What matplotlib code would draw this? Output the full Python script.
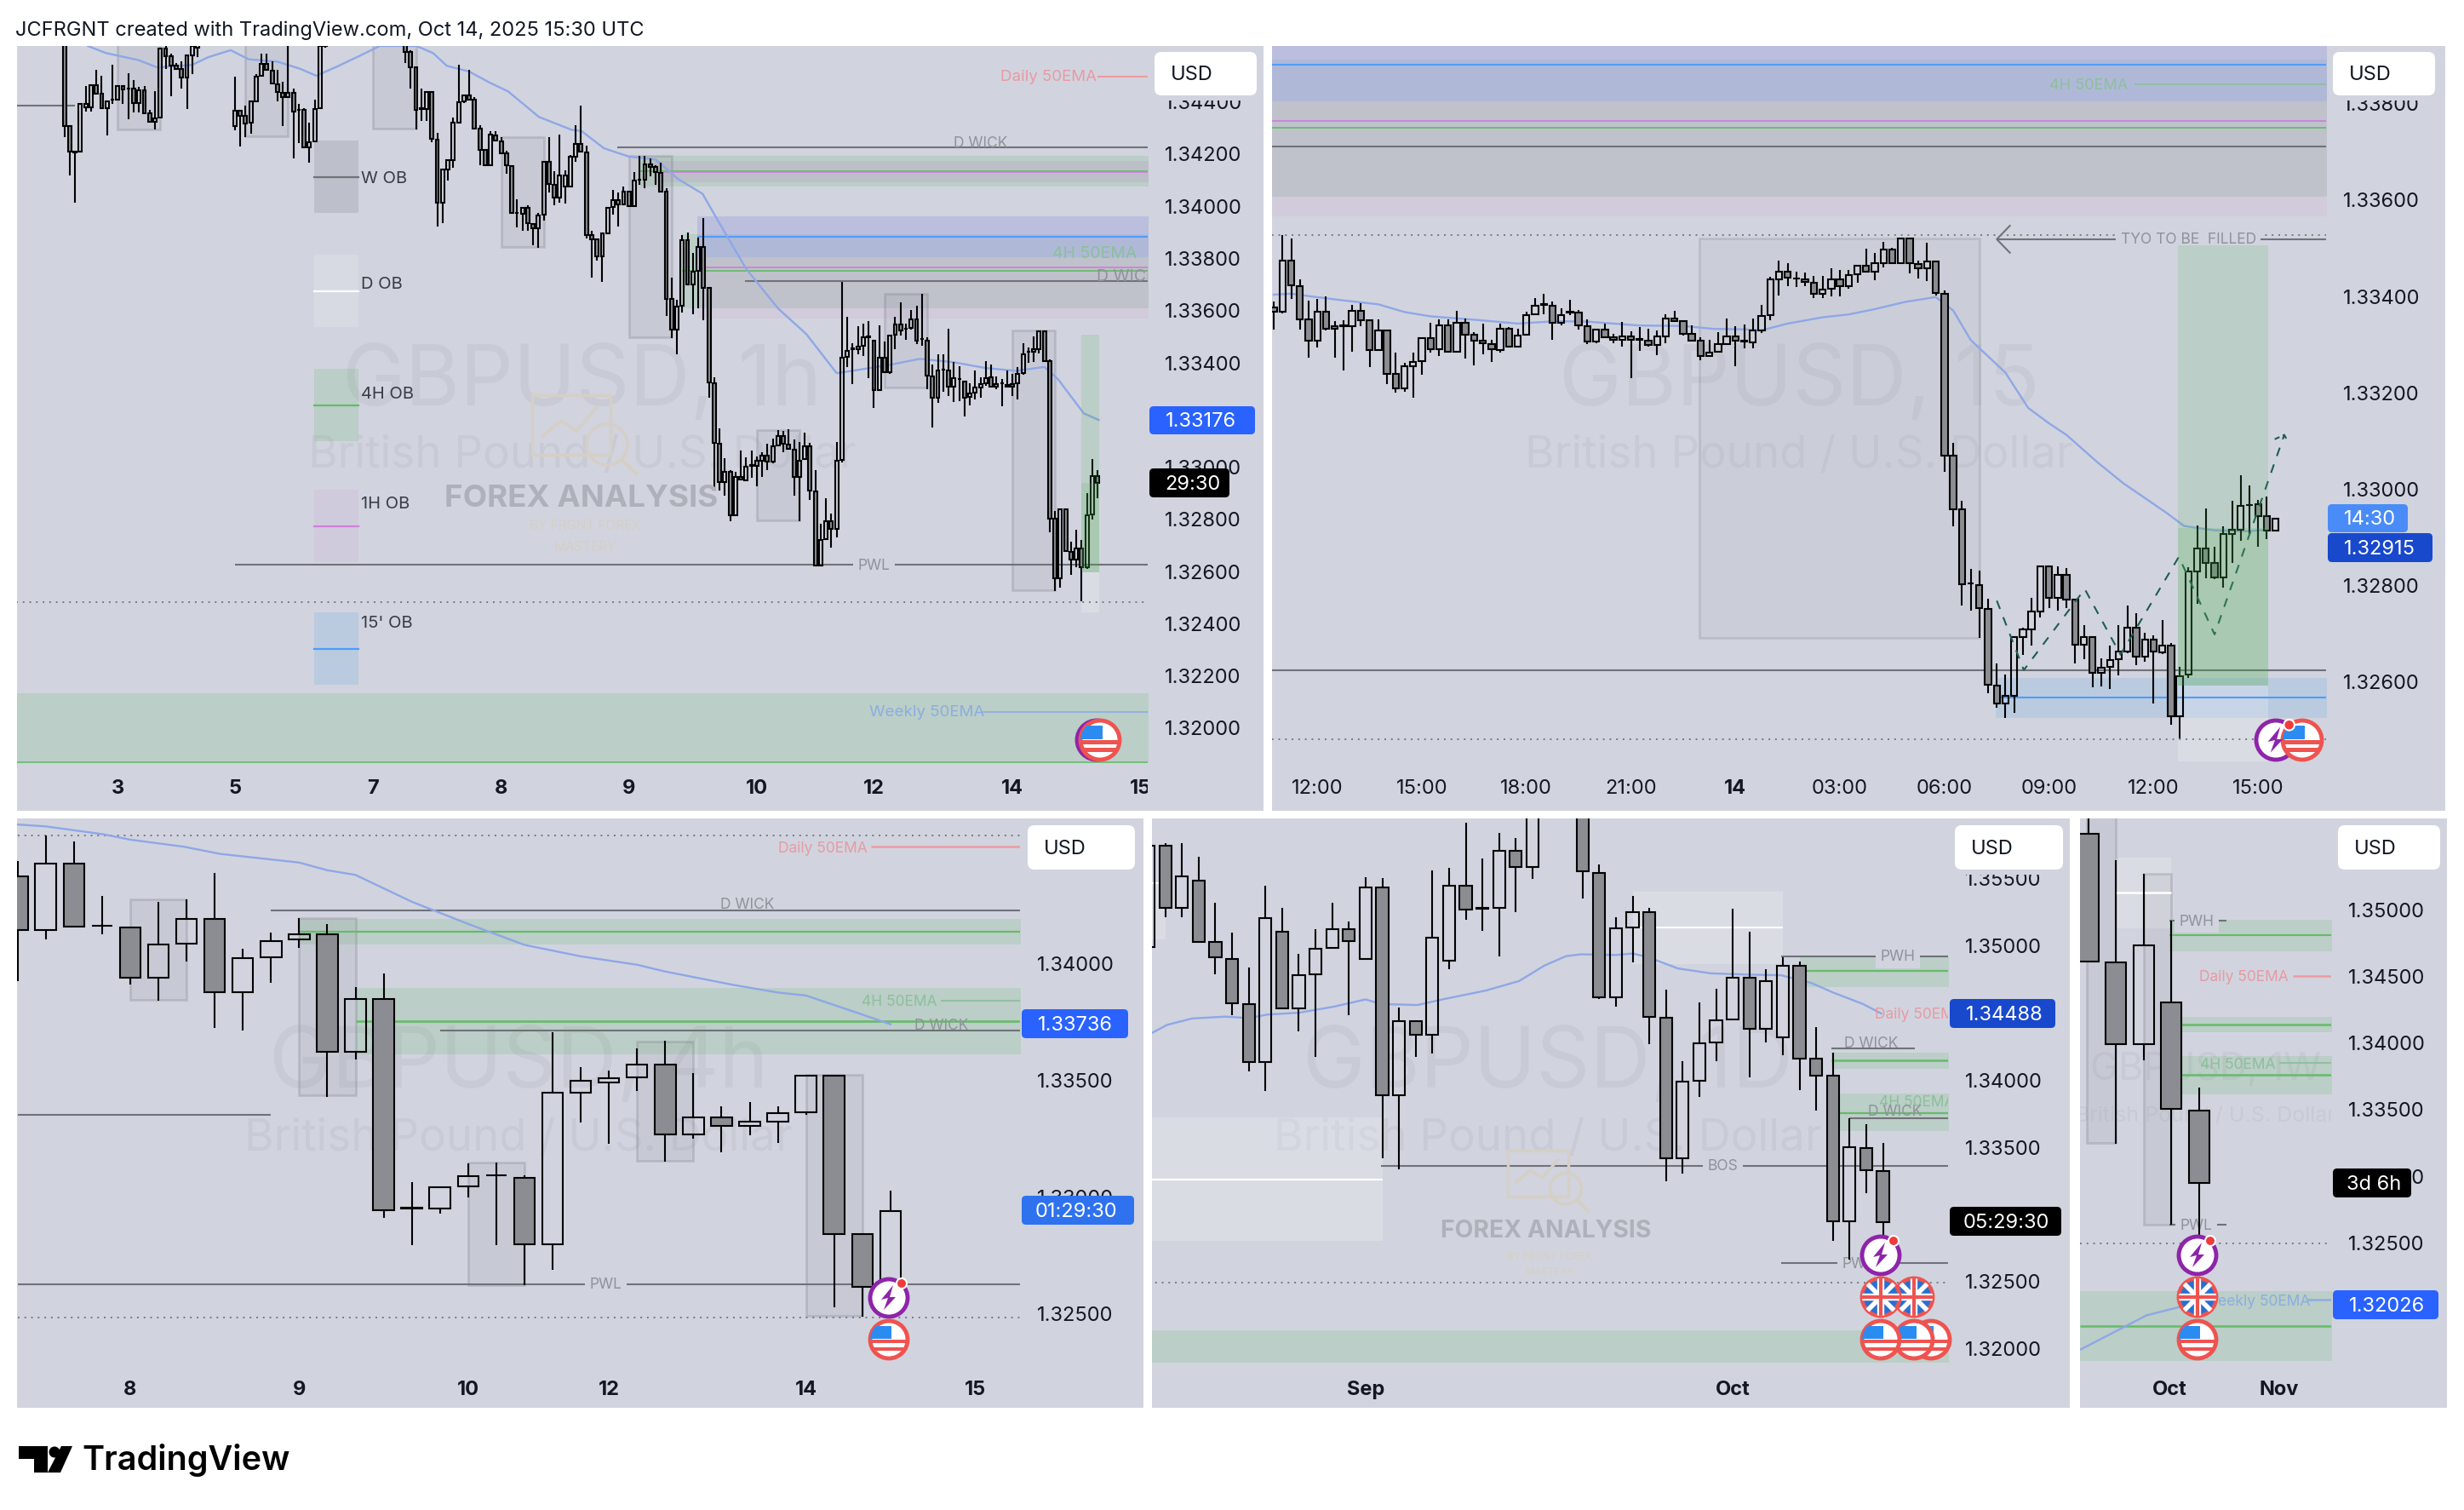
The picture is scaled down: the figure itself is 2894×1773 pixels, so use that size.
import numpy as np
import matplotlib
matplotlib.use('Agg')
import matplotlib.pyplot as plt
from matplotlib.patches import Rectangle, FancyBboxPatch, Circle, Polygon
from matplotlib.transforms import IdentityTransform

plt.rcParams['font.family'] = ['Inter', 'Liberation Sans', 'DejaVu Sans']

# 1h candles, in 1e-5 price units
h1_open = [134900,134303,134206,134205,134375,134375,134461,134429,134372,134404,
 134405,134459,134447,134447,134391,134442,134352,134319,134336,134600,
 134573,134535,134524,134489,134576,134606,134720,134770,134740,134760,
 134700,134660,134303,134364,134342,134316,134399,134496,134542,134517,
 134465,134433,134414,134433,134366,134366,134223,134245,134372,134611,
 134660,134700,134750,134800,134780,134820,134850,134810,134790,134830,
 134800,134760,134780,134730,134700,134589,134529,134371,134369,134435,
 134252,134010,134139,134175,134317,134399,134423,134404,134296,134212,
 134154,134268,134247,134201,134152,133971,133967,133991,133929,133911,
 133964,134168,134080,134029,134072,134072,134188,134236,134203,133885,
 133871,133804,133892,133993,134020,134005,134054,133999,134099,134098,
 134156,134149,134124,134052,133641,133523,133616,133868,133697,133748,
 133841,133683,133320,133088,132941,132979,132814,132960,132946,133003,
 133001,133023,133041,133017,133080,133115,133085,133064,132960,133028,
 133077,132905,132620,132720,132789,132760,133026,133420,133450,133449,
 133461,133496,133483,133292,133418,133360,133504,133545,133526,133531,
 133562,133487,133483,133346,133263,133371,133366,133306,133334,133326,
 133265,133282,133301,133319,133340,133305,133319,133313,133314,133317,
 133357,133438,133438,133450,133518,133402,132798,132572,132836,132673,
 132642,132684,132612,132816,132963]
h1_high = [134950,134303,134206,134390,134457,134464,134519,134497,134399,134538,
 134459,134459,134506,134480,134453,134457,134366,134437,134600,134611,
 134582,134546,134551,134578,134620,134740,134790,134820,134800,134810,
 134760,134700,134494,134364,134383,134399,134502,134582,134582,134551,
 134519,134475,134611,134448,134390,134372,134316,134404,134625,134680,
 134720,134780,134830,134860,134840,134880,134900,134870,134850,134880,
 134840,134810,134820,134770,134740,134595,134529,134448,134435,134435,
 134279,134138,134174,134336,134540,134423,134519,134415,134306,134212,
 134285,134285,134262,134208,134154,134024,133994,134002,133933,133972,
 134168,134262,134132,134270,134133,134192,134306,134383,134230,133904,
 133871,133892,133992,134059,134051,134073,134054,134127,134189,134189,
 134181,134154,134165,134067,133722,133637,133888,133896,133817,133877,
 133951,133686,133340,133144,133030,132985,132979,133061,133033,133061,
 133039,133055,133088,133106,133139,133135,133142,133104,133093,133128,
 133090,132985,132781,132878,132819,133093,133708,133572,133472,133537,
 133548,133556,133483,133540,133477,133502,133573,133629,133548,133600,
 133616,133662,133496,133390,133431,133431,133527,133401,133384,133326,
 133317,133368,133342,133403,133390,133344,133335,133368,133355,133380,
 133473,133455,133499,133521,133520,133409,132830,132836,132838,132713,
 132757,132719,132898,133029,132985]
h1_low = [134263,134116,134009,134203,134361,134361,134426,134372,134268,134388,
 134404,134388,134331,134355,134355,134352,134317,134290,134334,134524,
 134418,134524,134448,134369,134504,134568,134660,134700,134690,134680,
 134650,134630,134288,134225,134263,134276,134399,134495,134519,134464,
 134399,134305,134414,134181,134238,134223,134165,134242,134372,134606,
 134640,134670,134720,134760,134740,134790,134800,134770,134750,134780,
 134740,134720,134710,134680,134546,134448,134292,134325,134325,134241,
 133920,133933,134096,134143,134315,134391,134401,134290,134154,134154,
 134154,134249,134201,134121,133971,133917,133904,133904,133846,133839,
 133942,134049,134002,134009,134007,134072,134167,134203,133872,133722,
 133790,133708,133892,133964,133918,134005,133994,133994,134078,134067,
 134111,134078,134051,133577,133493,133428,133588,133697,133583,133605,
 133561,133262,132908,132908,132887,132791,132814,132947,132946,132957,
 132925,132961,132985,133012,133080,133055,133066,132887,132791,133028,
 132870,132620,132620,132720,132687,132727,133014,133382,133316,133431,
 133422,133338,133224,133292,133357,133353,133448,133502,133486,133524,
 133469,133461,133297,133150,133244,133287,133270,133246,133251,133190,
 133235,133257,133263,133308,133303,133297,133229,133306,133268,133255,
 133350,133396,133399,133434,133401,132746,132523,132534,132675,132583,
 132612,132482,132606,132795,132878]
h1_close = [134303,134206,134204,134390,134390,134461,134429,134372,134399,134405,
 134459,134446,134448,134391,134442,134352,134319,134334,134600,134573,
 134535,134524,134489,134576,134611,134720,134770,134740,134760,134700,
 134660,134640,134364,134344,134315,134399,134495,134542,134519,134467,
 134435,134414,134433,134361,134367,134223,134243,134371,134611,134660,
 134700,134750,134800,134780,134820,134850,134810,134790,134830,134800,
 134760,134780,134730,134700,134589,134529,134366,134372,134435,134254,
 134010,134138,134174,134317,134397,134423,134404,134296,134212,134154,
 134270,134249,134201,134154,133971,133972,133991,133933,133911,133962,
 134168,134081,134029,134116,134116,134187,134236,134206,133888,133871,
 133804,133892,133992,134020,134005,134054,133996,134096,134100,134158,
 134149,134127,134053,133643,133523,133613,133868,133697,133746,133841,
 133683,133322,133090,132941,132979,132814,132960,132949,132999,133004,
 133020,133041,133019,133077,133115,133086,133066,132960,133023,133077,
 132908,132620,132718,132789,132759,133023,133418,133444,133451,133458,
 133494,133497,133292,133418,133360,133502,133545,133520,133527,133562,
 133482,133488,133347,133263,133369,133372,133306,133337,133335,133263,
 133279,133301,133316,133339,133305,133314,133320,133306,133307,133355,
 133431,133439,133448,133518,133404,132800,132572,132836,132675,132642,
 132684,132615,132814,132963,132936]
h1_ema_x = [4.4,7.8,13.9,17.4,23.9,27,31.2,34.6,40,44.2,47.3,51.5,55.4,59.2,66.1,69.2,71.8,76,79.9,83.3,
 89.1,95.2,97.1,101.3,106,111,115.3,119.8,122.7,128,134,139.3,145,149.4,154.7,160.6,167,172.9,178.7,184,186.6,191.4,194.2]
h1_ema_y = [134611,134584,134557,134529,134538,134568,134595,134560,134551,134524,134497,134535,134573,134611,134611,134584,134535,134513,134470,134437,
 134339,134290,134285,134219,134187,134176,134100,134045,133942,133757,133605,133507,133357,133371,133388,133412,133399,133377,133366,133381,133333,133203,133178]
h1_ticks = [10,32,58,82,106,130,152,178,202]
h1_tick_labels = ['3','5','7','8','9','10','12','14','15']

# 15m candles
m15_open = [133375,133366,133472,133420,133350,133307,133366,133336,133337,133337,
 133369,133349,133287,133328,133237,133208,133254,133264,133312,133288,
 133338,133284,133343,133319,133306,133300,133287,133331,133294,133319,
 133362,133381,133379,133344,133365,133364,133337,133304,133329,133313,
 133309,133316,133309,133306,133298,133316,133352,133348,133320,133306,
 133275,133283,133300,133316,133305,133303,133328,133359,133433,133450,
 133435,133433,133427,133403,133414,133434,133419,133444,133462,133449,
 133468,133496,133468,133518,133466,133456,133470,133404,133068,132956,
 132802,132799,132750,132591,132553,132570,132692,132708,132745,132838,
 132772,132820,132769,132675,132691,132618,132629,132645,132661,132711,
 132651,132686,132660,132673,132528,132613,132828,132875,132845,132815,
 132906,132914,132965,132967,132942,132913]
m15_high = [133388,133526,133519,133433,133389,133393,133398,133347,133349,133381,
 133384,133350,133350,133329,133282,133260,133282,133312,133344,133351,
 133351,133369,133352,133324,133342,133308,133342,133335,133332,133367,
 133395,133404,133387,133373,133391,133370,133350,133332,133342,133320,
 133346,133326,133335,133332,133328,133362,133369,133348,133338,133313,
 133308,133325,133352,133337,133340,133352,133380,133439,133472,133467,
 133449,133448,133440,133441,133457,133453,133453,133462,133497,133489,
 133511,133499,133519,133519,133472,133510,133470,133411,133095,132974,
 132833,132829,132771,132636,132613,132693,132711,132773,132838,132838,
 132839,132834,132769,132717,132692,132647,132674,132717,132757,132741,
 132701,132695,132726,132679,132629,132837,132923,132959,132878,132921,
 132975,133028,133006,132976,132983,132939]
m15_low = [133329,133363,133394,133330,133272,133293,133328,133272,133244,133283,
 133337,133252,133285,133217,133198,133200,133189,133235,133281,133274,
 133284,133284,133270,133256,133278,133262,133281,133292,133294,133319,
 133362,133362,133309,133339,133360,133329,133300,133301,133311,133301,
 133295,133228,133286,133295,133276,133302,133345,133317,133304,133266,
 133275,133283,133299,133254,133291,133291,133322,133349,133400,133420,
 133418,133420,133395,133395,133399,133399,133415,133426,133449,133432,
 133458,133466,133466,133446,133435,133431,133400,133034,132921,132757,
 132746,132690,132574,132544,132524,132534,132655,132673,132732,132752,
 132746,132752,132637,132645,132587,132589,132584,132612,132658,132633,
 132640,132554,132657,132510,132482,132607,132761,132814,132811,132794,
 132845,132891,132905,132879,132894,132913]
m15_close = [133366,133472,133422,133351,133307,133366,133331,133331,133338,133369,
 133349,133287,133328,133238,133208,133253,133263,133312,133288,133338,
 133284,133343,133319,133307,133301,133288,133331,133294,133318,133360,
 133379,133382,133344,133360,133366,133338,133304,133329,133313,133309,
 133316,133309,133310,133298,133315,133352,133348,133320,133307,133275,
 133282,133300,133316,133306,133306,133328,133358,133433,133450,133437,
 133436,133428,133403,133413,133434,133419,133443,133462,133449,133468,
 133496,133468,133518,133467,133456,133470,133405,133068,132957,132801,
 132803,132751,132592,132553,132569,132692,132707,132744,132838,132772,
 132820,132770,132675,132691,132618,132628,132644,132661,132711,132651,
 132686,132661,132673,132528,132611,132828,132875,132846,132815,132905,
 132914,132963,132966,132943,132913,132937]
m15_ema_x = [0,2,4,8,12,15,18,23,28,32.5,36,42,47,50.5,54,56,59,63,66,69,72.5,76,78,80,84,86.6,89,91,94.5,97.5,102.5,104.5,108,111.5,114]
m15_ema_y = [133402,133404,133399,133390,133382,133366,133357,133350,133342,133347,133346,133338,133337,133331,133330,133328,133342,133355,133361,133372,133387,133397,133369,133308,133240,133167,133135,133111,133055,133011,132949,132922,132913,132911,132914]
m15_path_x = [83,86.1,93.1,97.2,103.9,108,116,116.6]
m15_path_y = [132767,132623,132791,132655,132858,132697,133111,133091]
m15_ticks = [5,17,29,41,53,65,77,89,101,113]
m15_tick_labels = ['12:00','15:00','18:00','21:00','14','03:00','06:00','09:00','12:00','15:00']

# 4h candles
h4_open = [134368,134140,134424,134157,134152,133937,134083,134186,133873,134022,134098,134121,133618,133844,132947,132945,
 133040,133089,133078,132794,133443,133485,133507,133562,133264,133335,133302,133318,133358,133515,132835,132611]
h4_high = [134437,134546,134519,134286,134152,134261,134273,134383,134060,134130,134191,134166,133896,133954,133058,133037,
 133138,133143,133089,133703,133552,133539,133631,133664,133525,133385,133403,133384,133520,133520,132835,133024]
h4_low = [133921,134098,134153,134121,133905,133836,134003,133721,133708,133913,134063,133426,133585,132906,132791,132925,
 132992,132791,132616,132685,133315,133225,133449,133146,133245,133187,133261,133228,133348,132524,132483,132611]
h4_close = [134140,134424,134153,134158,133937,134078,134186,133873,134021,134093,134121,133618,133844,132938,132948,133037,
 133084,133090,132794,133441,133492,133503,133562,133264,133335,133302,133317,133356,133515,132838,132611,132935]
h4_ema_x = [0,1,3,4,5.9,7.2,10,11,12,14,16,18,20,22,23,25.4,27,28,29.5,31]
h4_ema_y = [134592,134584,134551,134527,134497,134466,134429,134396,134376,134261,134166,134076,134027,133991,133962,133905,133872,133859,133798,133736]
h4_ticks = [4,10,16,21,28,34]
h4_tick_labels = ['8','9','10','12','14','15']

# daily candles
d1_open = [134988,135743,135279,135478,135020,134897,134561,134129,135102,134527,134783,134980,135116,134897,135427,133884,134433,134331,134883,135441,135279,135279,135703,
 135580,136000,136150,136060,135540,134610,135128,135244,134459,133409,133986,134274,134445,134758,134373,134311,134846,134151,134026,132945,133485,133317]
d1_high = [135814,135757,135757,135657,135316,135096,134832,135444,135279,134937,135116,135313,135173,135506,135501,134533,134433,135558,135572,135913,135643,135834,135799,
 136000,136200,136250,136100,135600,135207,135367,135279,134667,134134,134570,134675,135273,135102,134817,134909,134880,134391,134197,133707,133665,133528]
d1_low = [134974,135210,135210,135017,134780,134476,134058,133912,134519,134354,134169,134980,134476,134897,133414,133332,134169,134191,134823,135188,135108,134917,135244,
 135492,135950,136000,135344,134601,134539,134874,134262,133243,133300,133870,134134,134439,134012,134277,134177,133921,133764,132797,132654,133152,132825]
d1_close = [135743,135279,135512,135025,134906,134567,134129,135199,134527,134778,134974,135116,135031,135427,133884,134433,134331,135057,135441,135267,135270,135703,135580,
 135960,136150,136060,135549,134610,135122,135244,134467,133409,133981,134268,134439,134758,134373,134732,134846,134157,134029,132945,133497,133323,132939]
d1_ema_x = [0.15,1.1,2.6,4.6,6,7.1,9,11.1,13,13.9,16.1,17.6,20.2,22.2,23.7,25,25.9,28,29,29.9,31.7,33.7,35.9,37.9,39.7,41,42.8,43.9]
d1_ema_y = [134342,134405,134453,134467,134456,134482,134496,134541,134595,134561,134553,134595,134661,134732,134846,134917,134931,134926,134937,134911,134826,134789,134780,134775,134718,134647,134561,134490]
d1_ticks = [13,35]
d1_tick_labels = ['Sep','Oct']

# weekly candles
w1_open = [135561,134598,133982,134298,133484]
w1_high = [135676,135363,135263,134908,133656]
w1_low = [134596,133240,133865,132630,132538]
w1_close = [134601,133982,134727,133498,132945]
w1_ema_x = [-0.3,0.9,2.1,3.3]
w1_ema_y = [131693,131822,131951,132014]
w1_ticks = [2.94,6.9]
w1_tick_labels = ['Oct','Nov']

# levels shared by the 1h and 15m charts
ZONE_4H = (1.33890, 1.33606)
LINE_15M = 1.33880
LINE_1H = 1.33762
LINE_4H = 1.33748
LINE_WICK = 1.33710
PWL = 1.32623
LOW_DOTS = 1.32480

W, H = 2894, 1774
BG = '#d1d4de'
GREY = '#6f7278'
GREEN = '#66bb6a'
PINK = '#cf7fdc'
BLUE = '#4f9cf9'
EMA = '#8ea7e6'
LBL_GREY = '#8f929b'
LBL_RED = '#e89aa3'
LBL_GREEN = '#8dbf9c'
LBL_BLUE = '#8aaee0'
TXT = '#131722'
IDENT = IdentityTransform()

fig = plt.figure(figsize=(W / 100, H / 100), dpi=100, facecolor='white')


def px_rect(x0, y0, x1, y1, **kw):
    r = Rectangle((x0, H - y1), x1 - x0, y1 - y0, transform=IDENT, **kw)
    fig.add_artist(r)
    return r


def px_line(xs, ys, **kw):
    fig.add_artist(plt.Line2D(xs, [H - y for y in ys], transform=IDENT, **kw))


def px_text(x, y, s, **kw):
    kw.setdefault('va', 'center')
    return fig.text(x, H - y - 3, s, transform=IDENT, **kw)


def panel(left, right, plot_right, top, bottom, xlim, ylim, yticks, ylabels, xticks, xlabels, bold=None, xpad=-27):
    px_rect(left, top, right, bottom, fc=BG, ec='none', zorder=-1)
    ax = fig.add_axes([left / W, 1 - bottom / H, (plot_right - left) / W, (bottom - top) / H])
    ax.patch.set_visible(False)
    for s in ax.spines.values():
        s.set_visible(False)
    ax.set_xlim(*xlim)
    ax.set_ylim(*ylim)
    ax.yaxis.tick_right()
    ax.set_yticks(yticks, ylabels)
    ax.set_xticks(xticks, xlabels)
    ax.tick_params(axis='y', length=0, pad=14.4, labelsize=17, labelcolor=TXT)
    ax.tick_params(axis='x', length=0, pad=xpad, labelsize=17, labelcolor=TXT)
    for t, lab in zip(ax.get_xticklabels(), xlabels):
        t.set_clip_on(True)
        t.set_clip_box(ax.bbox)
        if bold is None or lab in bold:
            t.set_fontweight('bold')
    return ax


def candles(ax, o, h, l, c, width, lw=1.5):
    o, h, l, c = [np.array(v) / 1e5 for v in (o, h, l, c)]
    x = np.arange(len(o))
    top = np.maximum(o, c)
    bot = np.minimum(o, c)
    down = c < o
    ax.vlines(x, top, h, color='black', lw=lw, zorder=3)
    ax.vlines(x, l, bot, color='black', lw=lw, zorder=3)
    ax.bar(x[down], (top - bot)[down], bottom=bot[down], width=width, color='#8b8d93', edgecolor='black', linewidth=lw, zorder=3)
    ax.bar(x[~down], (top - bot)[~down], bottom=bot[~down], width=width, color='none', edgecolor='black', linewidth=lw, zorder=3)


def band(ax, x0, x1, y0, y1, color, alpha, z=1):
    ax.fill_between([x0, x1], y0, y1, color=color, alpha=alpha, lw=0, zorder=z)


def green(ax, x0, x1, y0, y1, z=1):
    band(ax, x0, x1, y0, y1, '#4caf50', 0.16, z)


def zone_stack(ax, x0, x1):
    # the 1H, 4H and 15m zones overlap, each slice has its own mixed colour
    band(ax, x0, x1, 1.33958, 1.33890, '#bcbedd', 1)
    band(ax, x0, x1, 1.33890, 1.33803, '#afb9d7', 1)
    band(ax, x0, x1, 1.33803, 1.33606, '#bfc2cb', 1)
    band(ax, x0, x1, 1.33606, 1.33565, '#d2cbdc', 1)


def box(ax, x0, x1, y0, y1, a=0.10):
    ax.add_patch(Rectangle((x0, y1), x1 - x0, y0 - y1, fc=(0.47, 0.48, 0.53, a), ec=(0.47, 0.48, 0.53, a + 0.17), lw=2, zorder=2))


def light(ax, x0, x1, y0, y1, z=1):
    band(ax, x0, x1, y0, y1, '#ffffff', 0.2, z)


def hline(ax, y, x0, x1, color=GREY, lw=1.5):
    ax.plot([x0, x1], [y, y], color=color, lw=lw, zorder=2, solid_capstyle='butt')


def dots(ax, y, x0, x1):
    ax.plot([x0, x1], [y, y], color='#767982', lw=1.4, ls=(0, (1, 3)), zorder=2)


def label(ax, x, y, s, color=LBL_GREY, size=12.5, bg=False):
    kw = {}
    if bg:
        kw['bbox'] = dict(fc=BG, ec='none', pad=4)
    ax.text(x, y, s, color=color, fontsize=size, ha='center', va='center', clip_on=True, zorder=2.5, **kw)


def ema(ax, xs, ys):
    ax.plot(xs, np.array(ys) / 1e5, color=EMA, lw=1.7, zorder=2.2)


def watermark(ax, cx, y1, y2, title, s1=71, s2=38):
    col = '#c8cbd5'
    ax.text(cx, y1, title, transform=ax.transAxes, fontsize=s1, color=col, ha='center', va='center', zorder=0.5, clip_on=True)
    ax.text(cx, y2, 'British Pound / U.S. Dollar', transform=ax.transAxes, fontsize=s2, color=col, ha='center', va='center', zorder=0.5, clip_on=True)


def badge(x0, y0, x1, y1, s, fc, fg='white', r=5, size=17, dx=19):
    fig.add_artist(FancyBboxPatch((x0, H - y1), x1 - x0, y1 - y0, boxstyle='round,pad=0,rounding_size=%d' % r,
                                  transform=IDENT, fc=fc, ec='none', zorder=5))
    px_text(x0 + dx, (y0 + y1) / 2 - 2, s, color=fg, fontsize=size, zorder=6)


def usd_tag(x0, y0, x1, y1):
    px_rect(x0 - 4, y0 - 4, x1 + 4, y1 + 6, fc=BG, ec='none', zorder=4.5)
    badge(x0, y0, x1, y1, 'USD', 'white', fg=TXT, r=8)


def forex_mark(cx, icon_top, scale, y_title, y_sub1, y_sub2):
    col = '#d5cfc6'
    w, h = 92 * scale, 70 * scale
    x0 = cx - 58 * scale
    px_rect(x0, icon_top, x0 + w, icon_top + h, fc='none', ec=col, lw=2.5, zorder=1)
    px_line([x0 + 12 * scale, x0 + 34 * scale, x0 + 52 * scale, x0 + 76 * scale],
            [icon_top + 48 * scale, icon_top + 30 * scale, icon_top + 42 * scale, icon_top + 14 * scale], color=col, lw=2.5, zorder=1)
    fig.add_artist(Circle((x0 + 88 * scale, H - icon_top - 58 * scale), 24 * scale, transform=IDENT, fc='none', ec=col, lw=2.5, zorder=1))
    px_line([x0 + 105 * scale, x0 + 122 * scale], [icon_top + 75 * scale, icon_top + 92 * scale], color=col, lw=3, zorder=1)
    px_text(cx, y_title, 'FOREX ANALYSIS', color='#aeb1ba', fontsize=26.5 * scale, fontweight='bold', ha='center', zorder=1)
    px_text(cx + 4, y_sub1, 'BY FRGNT FOREX', color=col, fontsize=11 * scale, ha='center', zorder=1)
    px_text(cx + 4, y_sub2, 'MASTERY', color=col, fontsize=11 * scale, ha='center', zorder=1)


def ring(x, y, r, edge, z=4.0):
    c = Circle((x, H - y), r, transform=IDENT, fc='white', ec=edge, lw=3.5, zorder=z)
    fig.add_artist(c)
    return c


def icon_us(x, y, r=22, z=4.0):
    c = ring(x, y, r, '#ef5350', z)
    for k in (0.0, 0.4):
        s = px_rect(x - r, y + k * r, x + r, y + (k + 0.2) * r, fc='#ef5350', ec='none', zorder=z + 0.01)
        s.set_clip_path(c)
    s = px_rect(x - r, y - 0.75 * r, x + 0.15 * r, y - 0.05 * r, fc='#2a8cf0', ec='none', zorder=z + 0.02)
    s.set_clip_path(c)


def icon_uk(x, y, r=22, z=4.0):
    c = ring(x, y, r, '#ef5350', z)
    fig.add_artist(Circle((x, H - y), r - 2, transform=IDENT, fc='#2a6fd0', ec='none', zorder=z + 0.01))
    for xs, ys, col, lw in [([x - r, x + r], [y - r, y + r], 'white', 4), ([x - r, x + r], [y + r, y - r], 'white', 4),
                            ([x, x], [y - r, y + r], 'white', 6), ([x - r, x + r], [y, y], 'white', 6),
                            ([x, x], [y - r, y + r], '#ef5350', 3), ([x - r, x + r], [y, y], '#ef5350', 3)]:
        l = plt.Line2D(xs, [H - v for v in ys], transform=IDENT, color=col, lw=lw, zorder=z + 0.02)
        fig.add_artist(l)
        l.set_clip_path(c)


def icon_bolt(x, y, r=22, dot=True, z=4.0):
    ring(x, y, r, '#8e24aa', z)
    u = r / 22
    fig.add_artist(Polygon([(x + 5 * u, H - y + 15 * u), (x - 9 * u, H - y - 2 * u), (x - 1 * u, H - y), (x - 6 * u, H - y - 14 * u),
                            (x + 8 * u, H - y + 1 * u), (x + 1 * u, H - y + 1 * u)], transform=IDENT, fc='#8e24aa', ec='none', zorder=z + 0.02))
    if dot:
        fig.add_artist(Circle((x + 15 * u, H - y + 17 * u), 6 * u, transform=IDENT, fc='#ef3b3b', ec='white', lw=1.5, zorder=z + 0.03))


def fmt(ticks):
    return ['%.5f' % t for t in ticks]


# ---- top left: 1h
yt = [1.320 + 0.002 * i for i in range(13)]
ax1 = panel(20, 1484, 1348, 55, 953, (-8.9, 203.4), (1.31680, 1.34611), yt, fmt(yt), h1_ticks, h1_tick_labels)
watermark(ax1, 0.50, 0.56, 0.465, 'GBPUSD, 1h')
green(ax1, 108, 204, 1.34190, 1.34073)
band(ax1, 110.7, 204, 1.34170, 1.34089, '#bcbfc8', 1)
green(ax1, 115.8, 118.9, *ZONE_4H)
zone_stack(ax1, 118.9, 204)
green(ax1, -9, 204, 1.32131, 1.31866)
hline(ax1, 1.31866, -9, 204, color=GREEN, lw=1.2)
for x0, x1, y0, y1 in [(10, 18, 1.34640, 1.34290), (34, 42, 1.34640, 1.34266), (58, 66, 1.34640, 1.34296), (82, 90, 1.34261, 1.33841),
                       (106, 114, 1.34189, 1.33495), (130, 138, 1.33139, 1.32794), (154, 162, 1.33660, 1.33301), (178, 186, 1.33520, 1.32525)]:
    box(ax1, x0, x1, y0, y1)
hline(ax1, 1.34383, -9, 2)
hline(ax1, 1.34223, 103.8, 204)
hline(ax1, 1.34131, 107.8, 204, color=GREEN, lw=1.3)
hline(ax1, 1.34129, 110.7, 204, color=PINK, lw=1.3)
hline(ax1, LINE_15M, 118.9, 204, color=BLUE)
hline(ax1, LINE_1H, 119, 204, color=PINK, lw=1.3)
hline(ax1, LINE_4H, 116, 204, color=GREEN, lw=1.3)
hline(ax1, LINE_WICK, 127.8, 204)
hline(ax1, PWL, 32, 204)
hline(ax1, 1.34494, 194, 204, color='#ef9aa2')
hline(ax1, 1.32059, 172.4, 204, color=LBL_BLUE, lw=1.2)
dots(ax1, LOW_DOTS, -9, 204)
candles(ax1, h1_open, h1_high, h1_low, h1_close, 0.62)
ema(ax1, h1_ema_x, h1_ema_y)
green(ax1, 191, 194.3, 1.33504, 1.32593, z=4)
green(ax1, 191, 194.3, 1.32936, 1.32593, z=4)
light(ax1, 191, 194.3, 1.32593, 1.32441)
label(ax1, 172, 1.34240, 'D WICK')
label(ax1, 193.5, 1.33817, '4H 50EMA', color=LBL_GREEN, size=14)
label(ax1, 199.5, 1.33730, 'D WICK', size=14)
label(ax1, 184.8, 1.34494, 'Daily 50EMA', color=LBL_RED, size=13.5)
label(ax1, 162, 1.32059, 'Weekly 50EMA', color=LBL_BLUE, size=13.5)
label(ax1, 152, PWL, 'PWL', size=12.5, bg=True)

# legend swatches drawn on the 1h chart
for y0, col, alpha, line, name, yl in [(166, '#787b86', 0.22, '#6f7278', 'W OB', 207), (300, '#ffffff', 0.15, '#ffffff', 'D OB', 331),
                                       (434, '#4caf50', 0.16, GREEN, '4H OB', 460), (576, '#ce93d8', 0.14, PINK, '1H OB', 589),
                                       (720, '#2196f3', 0.13, BLUE, "15' OB", 729)]:
    px_rect(369, y0, 421, y0 + 85, fc=col, alpha=alpha, ec='none', zorder=1)
    px_line([369, 421], [y0 + 43, y0 + 43], color=line, lw=1.6, zorder=1.1)
    px_text(424, yl, name, color='#3a3d46', fontsize=14.5, zorder=1.2)
forex_mark(683, 465, 1.0, 583, 615, 640)

# ---- top right: 15m
yt = [1.326 + 0.002 * i for i in range(7)]
ax2 = panel(1494, 2872, 2732, 55, 953, (-0.2, 120.8), (1.32331, 1.33918), yt, fmt(yt), m15_ticks, m15_tick_labels, bold=['14'])
watermark(ax2, 0.50, 0.56, 0.465, 'GBPUSD, 15')
zone_stack(ax2, -1, 121)
band(ax2, 82.9, 121, 1.32607, 1.32524, '#2196f3', 0.13)
box(ax2, 48.9, 81, 1.33519, 1.32690, a=0.06)
hline(ax2, LINE_15M, -1, 121, color=BLUE)
hline(ax2, LINE_1H, -1, 121, color=PINK, lw=1.3)
hline(ax2, LINE_4H, -1, 121, color=GREEN, lw=1.3)
hline(ax2, LINE_WICK, -1, 121)
hline(ax2, 1.33838, 98.8, 121, color=LBL_GREEN, lw=1.2)
hline(ax2, PWL, -1, 121)
hline(ax2, 1.32566, 82.9, 121, color=BLUE)
dots(ax2, 1.33526, -1, 121)
dots(ax2, LOW_DOTS, -1, 121)
hline(ax2, 1.33517, 83, 121)
ax2.plot([84.5, 83, 84.5], [1.33545, 1.33517, 1.33489], color=GREY, lw=1.5, zorder=2)
candles(ax2, m15_open, m15_high, m15_low, m15_close, 0.72)
ema(ax2, m15_ema_x, m15_ema_y)
ax2.plot(m15_path_x, np.array(m15_path_y) / 1e5, color='#1f5c50', lw=1.5, ls=(0, (5, 5)), zorder=3.5)
ax2.plot([114.9, 116], [1.33102, 1.33111], color='#1f5c50', lw=1.5, ls=(0, (3, 2)), zorder=3.5)
green(ax2, 103.8, 114.2, 1.33505, 1.32591, z=4)
green(ax2, 103.8, 114.2, 1.32918, 1.32591, z=4)
light(ax2, 103.8, 114.2, 1.32591, 1.32433)
label(ax2, 93.5, 1.33838, '4H 50EMA', color=LBL_GREEN, size=13)
label(ax2, 105, 1.33517, 'TYO TO BE  FILLED', size=12.5, bg=True)

# ---- bottom left: 4h
yt = [1.325, 1.330, 1.335, 1.340]
ax3 = panel(20, 1343, 1198, 962, 1654, (-0.02, 35.6), (1.32092, 1.34618), yt, fmt(yt), h4_ticks, h4_tick_labels, xpad=-24)
watermark(ax3, 0.50, 0.583, 0.457, 'GBPUSD, 4h')
green(ax3, 10, 36, 1.34188, 1.34076)
green(ax3, 12, 36, 1.33891, 1.33606)
for x0, x1, y0, y1 in [(4, 6, 1.34271, 1.33839), (10, 12, 1.34191, 1.33430), (16, 18, 1.33143, 1.32619), (22, 24, 1.33662, 1.33151), (28, 30, 1.33520, 1.32485)]:
    box(ax3, x0, x1, y0, y1)
hline(ax3, 1.34225, 9, 36)
hline(ax3, 1.34134, 10, 36, color=GREEN, lw=1.6)
hline(ax3, 1.33749, 12, 36, color=GREEN, lw=1.9)
hline(ax3, 1.33708, 15, 36)
hline(ax3, 1.33349, 0, 9)
hline(ax3, PWL, 0, 36)
hline(ax3, 1.33837, 32.8, 36, color=LBL_GREEN, lw=1.3)
hline(ax3, 1.34497, 30.3, 36, color='#ef9aa2', lw=1.8)
dots(ax3, 1.34546, 0, 36)
dots(ax3, LOW_DOTS, 0, 36)
candles(ax3, h4_open, h4_high, h4_low, h4_close, 0.74)
ema(ax3, h4_ema_x, h4_ema_y)
label(ax3, 25.9, 1.34250, 'D WICK')
label(ax3, 32.8, 1.33734, 'D WICK')
label(ax3, 31.3, 1.33836, '4H 50EMA', color=LBL_GREEN)
label(ax3, 28.6, 1.34491, 'Daily 50EMA', color=LBL_RED)
label(ax3, 20.9, PWL, 'PWL', bg=True)

# ---- bottom middle: daily
yt = [1.320 + 0.005 * i for i in range(8)]
ax4 = panel(1353, 2431, 2288, 962, 1654, (0.2, 47.9), (1.31553, 1.35943), yt, fmt(yt), d1_ticks, d1_tick_labels, xpad=-24)
watermark(ax4, 0.497, 0.583, 0.457, 'GBPUSD, 1D')
light(ax4, 0.2, 14, 1.33719, 1.32797)
light(ax4, 0.2, 1, 1.35464, 1.35040)
light(ax4, 29, 38, 1.35395, 1.34860)
green(ax4, 39, 48, 1.34909, 1.34689)
green(ax4, 40.9, 48, 1.34197, 1.34077)
green(ax4, 40.9, 48, 1.33895, 1.33614)
green(ax4, 0, 48, 1.32128, 1.31891)
hline(ax4, 1.33255, 0.2, 14, color='white', lw=1.6)
hline(ax4, 1.35464, 0.2, 1, color='white', lw=1.6)
hline(ax4, 1.35131, 29, 38, color='white', lw=1.6)
hline(ax4, 1.33357, 13.9, 48)
hline(ax4, 1.34917, 37.9, 48)
hline(ax4, 1.34809, 39, 48, color=GREEN, lw=1.6)
hline(ax4, 1.34231, 40.9, 45.9)
hline(ax4, 1.34140, 40.9, 48, color=GREEN, lw=1.8)
hline(ax4, 1.33750, 40.9, 48, color=GREEN, lw=1.6)
hline(ax4, 1.33713, 42, 48)
hline(ax4, 1.32629, 37.9, 48)
dots(ax4, 1.32484, 0, 48)
candles(ax4, d1_open, d1_high, d1_low, d1_close, 0.72)
ema(ax4, d1_ema_x, d1_ema_y)
label(ax4, 44.9, 1.34917, 'PWH', bg=True)
label(ax4, 43.3, 1.34271, 'D WICK')
label(ax4, 46, 1.33836, '4H 50EMA', color=LBL_GREEN)
label(ax4, 44.7, 1.33764, 'D WICK')
label(ax4, 46.2, 1.34490, 'Daily 50EMA', color=LBL_RED)
label(ax4, 34.4, 1.33357, 'BOS', bg=True)
label(ax4, 42.5, 1.32629, 'PWL', bg=True)
forex_mark(1816, 1352, 0.77, 1443, 1473, 1491)

# ---- bottom right: weekly
yt = [1.325, 1.330, 1.335, 1.340, 1.345, 1.350]
ax5 = panel(2443, 2874, 2738, 962, 1654, (-0.3, 8.77), (1.31258, 1.35677), yt, fmt(yt), w1_ticks, w1_tick_labels, xpad=-24)
watermark(ax5, 0.5, 0.575, 0.497, 'GBPUSD, 1W', s1=32, s2=18)
green(ax5, 2.94, 9, 1.34919, 1.34684)
green(ax5, 2.94, 9, 1.34189, 1.34077)
green(ax5, 2.94, 9, 1.33894, 1.33607)
green(ax5, -0.3, 9, 1.32135, 1.31607)
box(ax5, -0.05, 1, 1.35800, 1.33246)
box(ax5, 2, 3, 1.35260, 1.32630)
light(ax5, 1, 3, 1.35386, 1.34853)
hline(ax5, 1.35120, 1, 3, color='white', lw=1.8)
hline(ax5, 1.34908, 2.94, 5)
hline(ax5, 1.32630, 2.94, 5)
hline(ax5, 1.34805, 2.94, 9, color=GREEN)
hline(ax5, 1.34129, 2.94, 9, color=GREEN, lw=1.8)
hline(ax5, 1.33753, 2.94, 9, color=GREEN, lw=1.8)
hline(ax5, 1.31871, -0.3, 9, color=GREEN, lw=1.8)
hline(ax5, 1.34495, 7.4, 9, color='#ef9aa2', lw=1.8)
hline(ax5, 1.33842, 6.9, 9, color=LBL_GREEN, lw=1.3)
hline(ax5, 1.32066, 7.9, 9, color=LBL_BLUE, lw=1.8)
dots(ax5, 1.32490, -0.3, 9)
candles(ax5, w1_open, w1_high, w1_low, w1_close, 0.73)
ema(ax5, w1_ema_x, w1_ema_y)
label(ax5, 3.9, 1.34908, 'PWH', bg=True)
label(ax5, 3.9, 1.32630, 'PWL', bg=True)
label(ax5, 5.6, 1.34495, 'Daily 50EMA', color=LBL_RED)
label(ax5, 5.4, 1.33833, '4H 50EMA', color=LBL_GREEN)
label(ax5, 6.1, 1.32057, 'Weekly 50EMA', color=LBL_BLUE)

# ---- price and clock tags
BRIGHT = '#2962ff'
DARK = '#1848cc'
for x0, x1, y0, y1 in [(1356, 1476, 62, 113), (2740, 2860, 62, 113), (1207, 1333, 970, 1022), (2296, 2423, 970, 1022), (2746, 2866, 970, 1022)]:
    usd_tag(x0, y0, x1, y1)
badge(1350, 478, 1474, 511, '1.33176', BRIGHT)
badge(1350, 551, 1444, 585, '29:30', 'black', dx=18)
badge(2734, 593, 2828, 626, '14:30', '#4a8cf7')
badge(2734, 627, 2857, 661, '1.32915', DARK)
badge(1200, 1186, 1325, 1220, '1.33736', BRIGHT)
badge(1200, 1405, 1332, 1439, '01:29:30', '#2f72f0', dx=16)
badge(2290, 1174, 2414, 1208, '1.34488', DARK)
badge(2290, 1418, 2421, 1452, '05:29:30', 'black', dx=16)
badge(2740, 1373, 2832, 1407, '3d 6h', 'black', dx=16)
badge(2740, 1516, 2864, 1550, '1.32026', BRIGHT)

# ---- event icons
ring(1288, 870, 23, '#8e24aa', z=3.9)
icon_us(1292, 870, 23)
icon_bolt(2673, 870, 23)
icon_us(2704, 870, 23)
icon_bolt(1044, 1525)
icon_us(1044, 1574)
icon_bolt(2209, 1475)
icon_uk(2248, 1524)
icon_uk(2209, 1524, z=4.2)
icon_us(2268, 1574, z=3.9)
icon_us(2248, 1574, z=4.0)
icon_us(2209, 1574, z=4.2)
icon_bolt(2581, 1475)
icon_uk(2581, 1524)
icon_us(2581, 1574)

# ---- header and footer
px_text(18, 33, 'JCFRGNT created with TradingView.com, Oct 14, 2025 15:30 UTC', color=TXT, fontsize=17)
fig.add_artist(Polygon([(22, H - 1699), (56, H - 1699), (56, H - 1730), (40, H - 1730), (40, H - 1714), (22, H - 1714)],
                       transform=IDENT, fc='black', ec='none'))
fig.add_artist(Circle((64, H - 1706), 6.5, transform=IDENT, fc='black', ec='none'))
fig.add_artist(Polygon([(72, H - 1699), (85, H - 1699), (71, H - 1730), (56, H - 1730)], transform=IDENT, fc='black', ec='none'))
px_text(96, 1712, 'TradingView', color='black', fontsize=28.5, fontweight='semibold')

fig.savefig('out.png', dpi=100, facecolor='white')
